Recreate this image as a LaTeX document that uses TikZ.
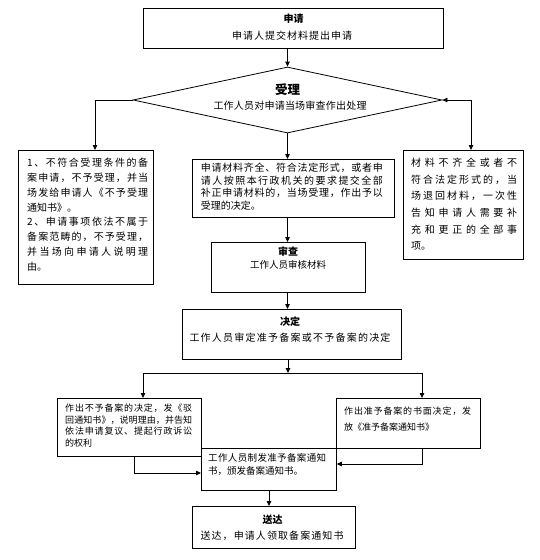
\documentclass[tikz,border=0pt]{standalone}
\usepackage{fontspec}
\setmainfont{Noto Sans CJK SC}
\usetikzlibrary{shapes.geometric,arrows.meta}
\makeatletter
\def\rs@spr#1#2\rs@end{#1\ifx\relax#2\relax\else\hfil\rs@spr#2\rs@end\fi}
\newcommand\spl[2]{\makebox[#1][s]{\rs@spr#2\rs@end}}
\makeatother
\begin{document}
\begin{tikzpicture}[x=1pt,y=-1pt,
  box/.style={draw,line width=0.8pt,inner sep=0pt,anchor=north west},
  txt/.style={inner sep=0pt,anchor=north west,align=left},
  ttl/.style={inner sep=0pt,font=\bfseries\fontsize{10}{12}\selectfont},
  sub/.style={inner sep=0pt,font=\fontsize{10}{12}\selectfont},
  arr/.style={line width=0.8pt,-{Triangle[length=5pt,width=4.5pt]}},
  darr/.style={line width=0.8pt,{Triangle[length=5pt,width=4.5pt]}-{Triangle[length=5pt,width=4.5pt]}},
  ln/.style={line width=0.8pt}]
\path[fill=white] (0,0) rectangle (539,560);
% boxes
\node[box,minimum width=300pt,minimum height=40pt] (A) at (143,8) {};
\node[draw,line width=0.8pt,diamond,inner sep=0pt,minimum width=309pt,minimum height=66pt] (D) at (287.5,100) {};
\node[box,minimum width=135pt,minimum height=134pt] (L) at (18,150) {};
\node[box,minimum width=202pt,minimum height=58pt] (M) at (192,159) {};
\node[box,minimum width=120pt,minimum height=109pt] (R) at (403,150) {};
\node[box,minimum width=154pt,minimum height=50pt] (S) at (211,242) {};
\node[box,minimum width=219pt,minimum height=50pt] (J) at (182,309) {};
\node[box,minimum width=144pt,minimum height=58pt] (LS) at (57,398) {};
\node[box,minimum width=144pt,minimum height=50pt] (RS) at (336,398) {};
\node[box,minimum width=135pt,minimum height=42pt] (MB) at (201,448) {};
\node[box,minimum width=163pt,minimum height=42pt] (T) at (192,506) {};
% texts
\node[ttl] (At) at (293.5,18.6) {申请};
\node[sub] (As) at (292,35.7) {\spl{120pt}{申请人提交材料提出申请}};
\node[ttl,font=\bfseries\fontsize{12.5}{14}\selectfont] (Dt) at (287.5,90) {受理};
\node[sub] (Ds) at (290,105.5) {\spl{153pt}{工作人员对申请当场审查作出处理}};
\node[txt,font=\fontsize{10}{14.8}\selectfont] (Lt) at (27,158) {\spl{121pt}{1、不符合受理条件的备}\\ \spl{121pt}{案申请，不予受理，并当}\\ \spl{121pt}{场发给申请人《不予受理}\\ 通知书》。\\ \spl{121pt}{2、申请事项依法不属于}\\ \spl{121pt}{备案范畴的，不予受理，}\\ \spl{121pt}{并当场向申请人说明理}\\ 由。};
\node[txt,font=\fontsize{10}{12.5}\selectfont] (Mt) at (200.7,163) {\spl{182pt}{申请材料齐全、符合法定形式，或者申}\\ \spl{182pt}{请人按照本行政机关的要求提交全部}\\ \spl{182pt}{补正申请材料的，当场受理，作出予以}\\ 受理的决定。};
\node[txt,font=\fontsize{10}{16.6}\selectfont] (Rt) at (411,158) {\spl{106pt}{材料不齐全或者不}\\ \spl{106pt}{符合法定形式的，当}\\ \spl{106pt}{场退回材料，一次性}\\ \spl{106pt}{告知申请人需要补}\\ \spl{106pt}{充和更正的全部事}\\ 项。};
\node[ttl] (St) at (288,252) {审查};
\node[inner sep=0pt,font=\fontsize{9.5}{11}\selectfont] (Ss) at (288,265) {工作人员审核材料};
\node[ttl] (Jt) at (290,321.4) {决定};
\node[sub] (Js) at (290,337.5) {\spl{201pt}{工作人员审定准予备案或不予备案的决定}};
\node[txt,font=\fontsize{9}{11.8}\selectfont] (LSt) at (65,403.5) {\spl{127pt}{作出不予备案的决定，发《驳}\\ \spl{127pt}{回通知书》，说明理由，并告知}\\ \spl{127pt}{依法申请复议、提起行政诉讼}\\ 的权利};
\node[txt,font=\fontsize{9}{16}\selectfont] (RSt) at (344,406.5) {\spl{127pt}{作出准予备案的书面决定，发}\\ 放《准予备案通知书》};
\node[txt,font=\fontsize{9.5}{13}\selectfont] (MBt) at (208,453) {\spl{118pt}{工作人员制发准予备案通知}\\ 书，颁发备案通知书。};
\node[ttl] (Tt) at (272.5,519.6) {送达};
\node[sub] (Ts) at (272,535.7) {\spl{143pt}{送达，申请人领取备案通知书}};
% connectors
\coordinate (lx) at (95,150);
\coordinate (rx) at (471,150);
\coordinate (hc) at (288,373);
\coordinate (hl) at (143,373);
\coordinate (hr) at (422,373);
\coordinate (lsx) at (134,473);
\coordinate (rsx) at (422,464);
\coordinate (tx) at (269,506);
\draw[arr] (A.south -| D.north) -- (D.north);
\draw[arr] (D.west) -| (lx);
\draw[darr] (D.east) -| (rx);
\draw[arr] (D.south) -- (D.south |- M.north);
\draw[arr] (M.south -| D.south) -- (S.north -| D.south);
\draw[arr] (S.south -| D.south) -- (J.north -| D.south);
\draw[arr] (J.south -| hc) -- (hc);
\draw[ln] (hl) -- (hr);
\draw[arr] (hl) -- (hl |- LS.north);
\draw[arr] (hr) -- (hr |- RS.north);
\draw[arr] (LS.south -| lsx) |- (MB.west |- lsx);
\draw[arr] (RS.south -| rsx) |- (MB.east |- rsx);
\draw[arr] (MB.south -| tx) -- (tx);
\end{tikzpicture}
\end{document}
